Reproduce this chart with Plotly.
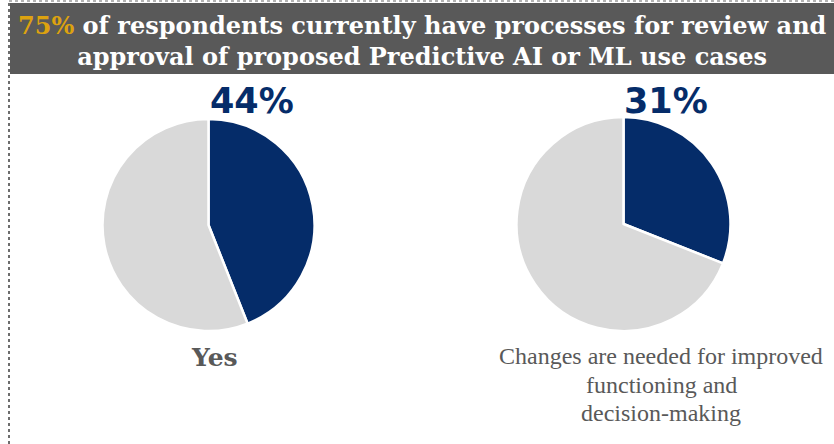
import plotly.graph_objects as go

# Survey shares shown in the two pies
pie_labels = ["Selected", "Other"]
yes_values = [44, 56]
changes_values = [31, 69]
yes_title = "Yes"
changes_title_lines = ["Changes are needed for improved", "functioning and", "decision-making"]
headline_pct = "75%"
headline_text = ("of respondents currently have processes for review and<br>"
                 "approval of proposed Predictive AI or ML use cases")

W, H = 834, 444
NAVY = "#052C69"
LIGHT = "#D9D9D9"
GREY_TEXT = "#595959"
GOLD = "#DDA20F"
SERIF = "'DejaVu Serif', serif"


def px_x(x):
    return x / W


def px_y(y):
    return 1 - y / H


def pie_domain(cx, cy, r):
    return dict(x=[px_x(cx - r), px_x(cx + r)], y=[px_y(cy + r), px_y(cy - r)])


fig = go.Figure()
for vals, (cx, cy, r) in zip([yes_values, changes_values],
                             [(208.5, 225, 106), (623.5, 224, 107)]):
    fig.add_trace(go.Pie(
        labels=pie_labels, values=vals, sort=False, direction="clockwise",
        rotation=0, domain=pie_domain(cx, cy, r),
        marker=dict(colors=[NAVY, LIGHT], line=dict(color="white", width=2.5)),
        textinfo="none", hoverinfo="label+percent", showlegend=False,
    ))

shapes = [
    # header band
    dict(type="rect", xref="paper", yref="paper", x0=px_x(10), x1=1.0,
         y0=px_y(74), y1=px_y(3), fillcolor="#595959", line=dict(width=0), layer="below"),
    # dashed frame
    dict(type="line", xref="paper", yref="paper", x0=px_x(9), x1=px_x(9),
         y0=0, y1=1, line=dict(color="#6d6d6d", width=2, dash="dot")),
    dict(type="line", xref="paper", yref="paper", x0=px_x(9), x1=1.0,
         y0=px_y(1), y1=px_y(1), line=dict(color="#9a9a9a", width=1.5, dash="dot")),
]

headline = (f"<span style=\"font-family:{SERIF};color:{GOLD}\">{headline_pct}</span>"
            f"<span style=\"font-family:{SERIF}\"> {headline_text}</span>")

annotations = [
    dict(x=px_x(423), y=px_y(41), xref="paper", yref="paper", xanchor="center", yanchor="middle",
         showarrow=False, align="center", text=headline,
         font=dict(family=SERIF, size=24, color="white", weight="bold")),
    dict(x=px_x(208), y=px_y(101), xref="paper", yref="paper", xanchor="left", yanchor="middle",
         showarrow=False, text=f"{yes_values[0]}%",
         font=dict(family="DejaVu Sans", size=35, color=NAVY, weight="bold")),
    dict(x=px_x(622), y=px_y(101), xref="paper", yref="paper", xanchor="left", yanchor="middle",
         showarrow=False, text=f"{changes_values[0]}%",
         font=dict(family="DejaVu Sans", size=35, color=NAVY, weight="bold")),
    dict(x=px_x(214), y=px_y(357), xref="paper", yref="paper", xanchor="center", yanchor="middle",
         showarrow=False, text=yes_title,
         font=dict(family=SERIF, size=25, color=GREY_TEXT, weight="bold")),
]
# multi-line caption under the right pie, one line per annotation
for i, line in enumerate(changes_title_lines):
    annotations.append(dict(
        x=px_x(661), y=px_y(356 + 28.5 * i), xref="paper", yref="paper",
        xanchor="center", yanchor="middle", showarrow=False, text=line,
        font=dict(family="Liberation Serif", size=24, color=GREY_TEXT)))

fig.update_layout(
    width=W, height=H, margin=dict(l=0, r=0, t=0, b=0),
    paper_bgcolor="white", plot_bgcolor="white",
    shapes=shapes, annotations=annotations,
)

fig.write_html("out.html")
